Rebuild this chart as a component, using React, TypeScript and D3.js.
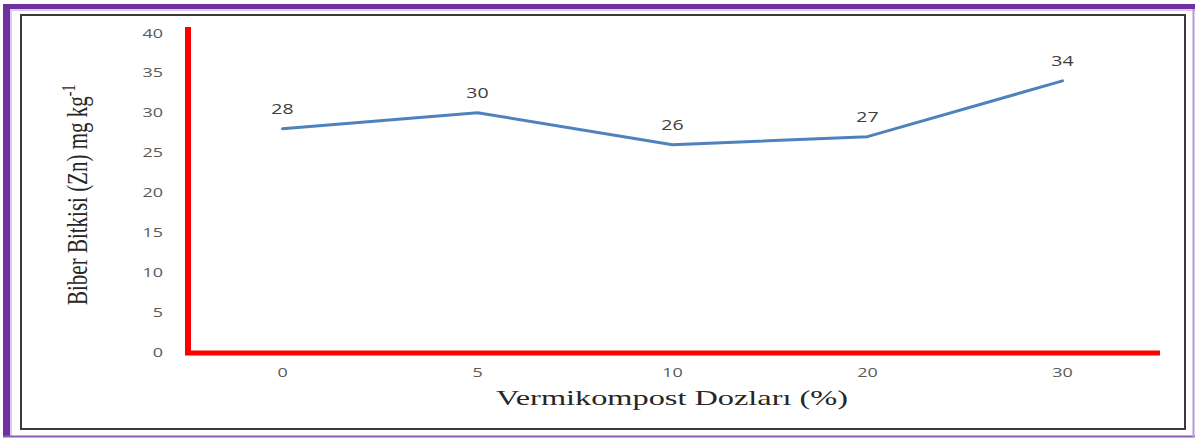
import { useEffect, useRef } from "react";
import * as d3 from "d3";

// Vermikompost doses (%) and Zn content of the pepper plant (mg kg-1)
const doses = ["0", "5", "10", "20", "30"];
const znValues = [28, 30, 26, 27, 34];
const yTicks = [0, 5, 10, 15, 20, 25, 30, 35, 40];

export default function App() {
  const ref = useRef<SVGSVGElement>(null);

  useEffect(() => {
    const width = 1195;
    const height = 438;
    const stretch = 1.38; // the picture's text is wider than it is tall

    const svg = d3.select(ref.current);
    svg.selectAll("*").remove();

    svg.attr("viewBox", [0, 0, width, height])
      .attr("width", width)
      .attr("height", height);

    svg.append("rect").attr("width", width).attr("height", height).attr("fill", "white");

    // frame: purple outer border, dark inner border
    svg.append("rect").attr("x", 3).attr("y", 4).attr("width", width - 3).attr("height", 5).attr("fill", "#7030a0");
    svg.append("rect").attr("x", 3).attr("y", 4).attr("width", 7).attr("height", 433).attr("fill", "#7030a0");
    svg.append("line").attr("x1", 10).attr("x2", width).attr("y1", 10).attr("y2", 10)
      .attr("stroke", "#dccbee").attr("stroke-width", 2);
    svg.append("line").attr("x1", 11).attr("x2", 11).attr("y1", 10).attr("y2", 436)
      .attr("stroke", "#dccbee").attr("stroke-width", 2);
    svg.append("line").attr("x1", 3).attr("x2", width).attr("y1", 436.5).attr("y2", 436.5)
      .attr("stroke", "#8a5cb8").attr("stroke-width", 2);
    svg.append("line").attr("x1", 1193.5).attr("x2", 1193.5).attr("y1", 9).attr("y2", 437)
      .attr("stroke", "#b898d8").attr("stroke-width", 2);
    svg.append("rect").attr("x", 21).attr("y", 15).attr("width", 1164).attr("height", 414)
      .attr("fill", "none").attr("stroke", "#3a3a3a").attr("stroke-width", 2);

    const x = d3.scaleBand(doses, [185, 1160]);
    const y = d3.scaleLinear([0, 40], [352, 33]);
    const cx = (d: string) => (x(d) ?? 0) + x.bandwidth() / 2;

    const numFont = "'Open Sans', sans-serif";

    // y tick labels
    svg.append("g")
      .selectAll("text")
      .data(yTicks)
      .join("text")
      .attr("transform", d => `translate(163,${y(d)}) scale(${stretch},1)`)
      .attr("dy", "0.35em")
      .attr("text-anchor", "end")
      .attr("font-family", numFont)
      .attr("font-size", 13)
      .attr("fill", "#595959")
      .text(d => d);

    // x tick labels
    svg.append("g")
      .selectAll("text")
      .data(doses)
      .join("text")
      .attr("transform", d => `translate(${cx(d)},377) scale(${stretch},1)`)
      .attr("text-anchor", "middle")
      .attr("font-family", numFont)
      .attr("font-size", 13)
      .attr("fill", "#595959")
      .text(d => d);

    // red axes
    svg.append("line")
      .attr("x1", x.range()[0] + 3).attr("x2", x.range()[0] + 3)
      .attr("y1", y(40) - 6).attr("y2", y(0) + 3)
      .attr("stroke", "#ff0000").attr("stroke-width", 6);
    svg.append("line")
      .attr("x1", x.range()[0]).attr("x2", x.range()[1])
      .attr("y1", y(0) + 1).attr("y2", y(0) + 1)
      .attr("stroke", "#ff0000").attr("stroke-width", 5);

    // series line
    const line = d3.line<number>()
      .x((_, i) => cx(doses[i]))
      .y(d => y(d));

    svg.append("path")
      .attr("fill", "none")
      .attr("stroke", "#4f81bd")
      .attr("stroke-width", 3)
      .attr("stroke-linejoin", "round")
      .attr("stroke-linecap", "round")
      .attr("d", line(znValues));

    // data labels
    svg.append("g")
      .selectAll("text")
      .data(znValues)
      .join("text")
      .attr("transform", (d, i) => `translate(${cx(doses[i])},${y(d) - 15}) scale(1.3,1)`)
      .attr("text-anchor", "middle")
      .attr("font-family", numFont)
      .attr("font-size", 15)
      .attr("fill", "#404040")
      .text(d => d);

    // axis titles
    svg.append("text")
      .attr("x", 672)
      .attr("y", 405)
      .attr("text-anchor", "middle")
      .attr("font-family", "'Liberation Serif', serif")
      .attr("font-size", 22)
      .attr("fill", "#262626")
      .attr("textLength", 352)
      .attr("lengthAdjust", "spacingAndGlyphs")
      .text("Vermikompost  Dozları  (%)");

    const yTitle = svg.append("text")
      .attr("transform", `translate(87,305) rotate(-90) scale(1,${stretch})`)
      .attr("font-family", "'Liberation Serif', serif")
      .attr("font-size", 21)
      .attr("fill", "#262626");
    yTitle.append("tspan").text("Biber Bitkisi (Zn) mg kg");
    yTitle.append("tspan").attr("font-size", 14).attr("dy", -9).text("-1");
  }, []);

  return <svg ref={ref} style={{ position: "absolute", left: 0, top: 0 }}></svg>;
}
